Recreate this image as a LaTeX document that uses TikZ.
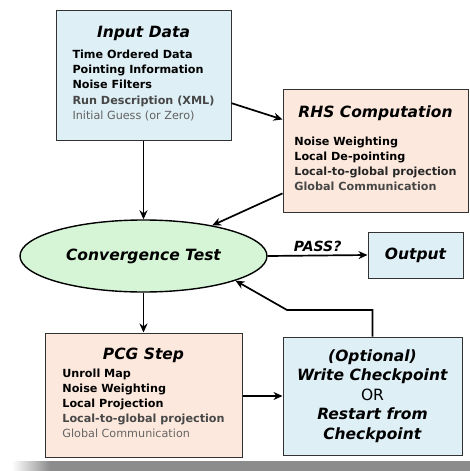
\documentclass[tikz,border=0pt]{standalone}
\usepackage{fontspec}
\setmainfont{DejaVu Sans}
\usepackage{xcolor}
\usepackage{tikz}
\usetikzlibrary{positioning,calc,shapes.geometric,arrows.meta}

\definecolor{inblue}{RGB}{222,239,245}
\definecolor{peach}{RGB}{252,232,220}
\definecolor{mint}{RGB}{214,245,214}
\definecolor{edge}{RGB}{50,50,50}

\newcommand{\ttlfont}{\fontsize{15.5}{19}\selectfont\bfseries\itshape}

\begin{document}
\begin{tikzpicture}[
					x=1pt, y=-1pt,
					stagebox/.style={
						rectangle, draw=edge, line width=1pt,
						inner sep=0pt, align=center,
						font=\fontsize{11.2}{15.2}\selectfont\bfseries
					},
					testnode/.style={
						ellipse, draw=black, line width=1.4pt, fill=mint,
						minimum width=247, minimum height=72, inner sep=0pt,
						font=\ttlfont
					},
					flow/.style={draw=black, line width=1.7pt, -{Stealth[length=9pt,width=8pt]}},
					passlbl/.style={font=\fontsize{14}{17}\selectfont\bfseries\itshape, above=0pt}
					]
					\useasboundingbox (0,0) rectangle (470,471);
					
					% --- shadow under the figure ---
					\shade[left color=white, right color=black!45] (12,461) rectangle (50,471);
					\fill[black!45] (50,461) rectangle (470,471);
					
					% --- top row ---
					\node[stagebox, fill=inblue, minimum width=175, minimum height=130] (input) at (143.5,75) {
						{\ttlfont Input Data}\\[6pt]
						\begin{tabular}{@{}l@{}}
							Time Ordered Data\\
							Pointing Information\\
							Noise Filters\\
							\color{black!72}Run Description (XML)\\
							\mdseries\color{black!62}Initial Guess (or Zero)
						\end{tabular}};
					
					\node[stagebox, fill=peach, minimum width=185, minimum height=123] (rhs) at (375.5,150.5) {
						{\ttlfont RHS Computation}\\[13pt]
						\begin{tabular}{@{}l@{}}
							Noise Weighting\\
							Local De-pointing\\
							\color{black!85}Local-to-global projection\\
							\color{black!72}Global Communication
						\end{tabular}};
					
					% --- middle row ---
					\node[testnode] (conv) at (143.5,256) {Convergence Test};
					\node[stagebox, fill=inblue, minimum width=95, minimum height=46, font=\ttlfont] (output) at (415.5,255) {Output};
					
					% --- bottom row ---
					\node[stagebox, fill=peach, minimum width=197, minimum height=124] (pcg) at (143.5,395) {
						{\ttlfont PCG Step}\\[3pt]
						\begin{tabular}{@{}l@{}}
							Unroll Map\\
							Noise Weighting\\
							Local Projection\\
							\color{black!72}Local-to-global projection\\
							\mdseries\color{black!60}Global Communication
						\end{tabular}};
					
					\node[stagebox, fill=inblue, minimum width=179, minimum height=118,
						font=\fontsize{15.5}{19.5}\selectfont] (ckpt) at (372.5,396) {
						\textbf{\textit{(Optional)}}\\
						\textbf{\textit{Write Checkpoint}}\\
						OR\\
						\textbf{\textit{Restart from}}\\
						\textbf{\textit{Checkpoint}}};
					
					% --- connectors ---
					\coordinate (bend) at (287,310);
					\draw[flow] ($(input.north east)!0.715!(input.south east)$) -- ($(rhs.north west)!0.25!(rhs.south west)$);
					\draw[flow] (input.south) -- (conv.north);
					\draw[flow] ($(rhs.north west)!0.846!(rhs.south west)$) -- (conv.24);
					\draw[flow] (conv.east) -- node[passlbl] {PASS?} (output.west);
					\draw[flow] (conv.south) -- (pcg.north);
					\draw[flow] (pcg.east |- ckpt.west) -- (ckpt.west);
					\draw[flow] (ckpt.north) |- (bend) -- (conv.-15);
					
				\end{tikzpicture}
\end{document}
